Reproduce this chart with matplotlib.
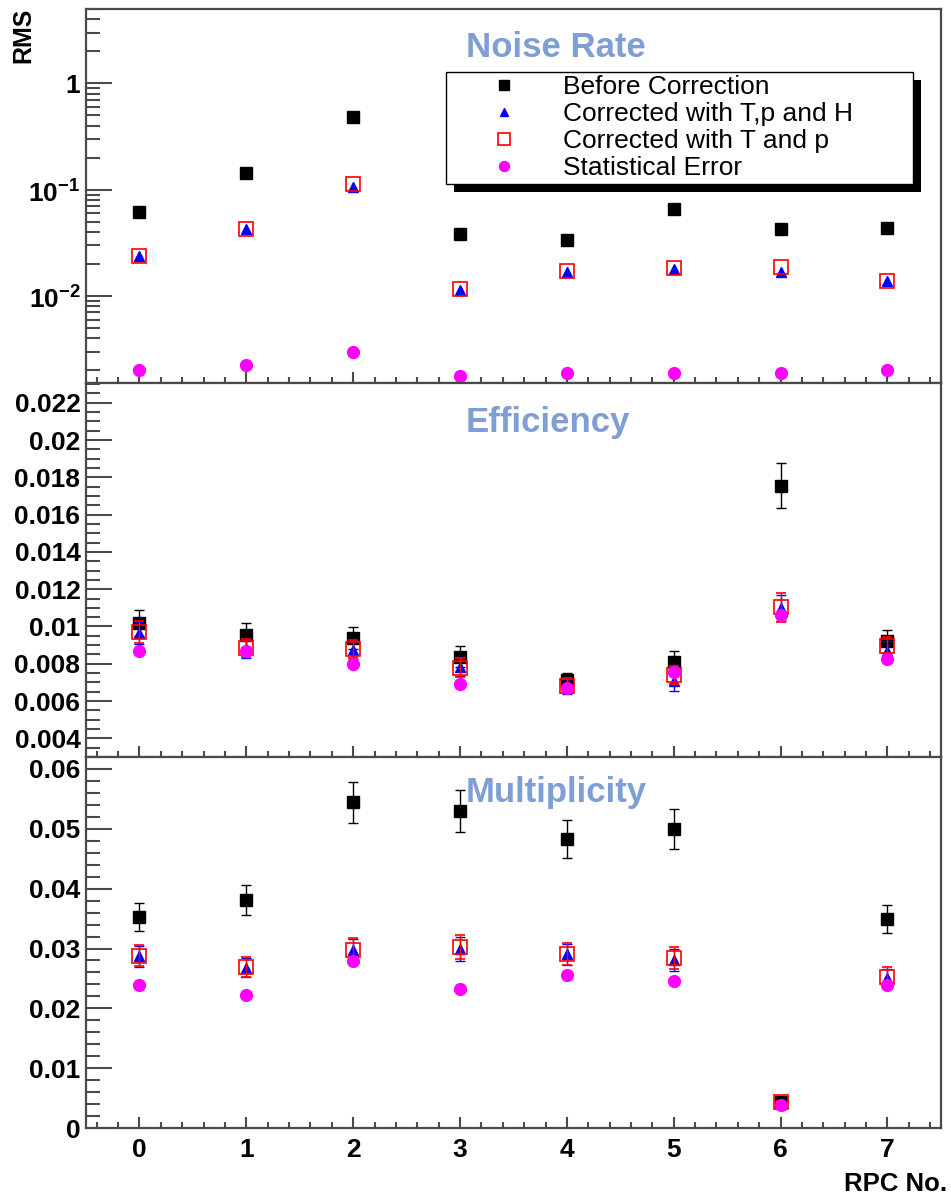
import numpy as np
import matplotlib
matplotlib.use('Agg')
import matplotlib.pyplot as plt
from matplotlib.ticker import MultipleLocator, FixedLocator, FixedFormatter, LogLocator, NullFormatter
from matplotlib.patches import Rectangle

plt.rcParams['font.family'] = ['Liberation Sans', 'DejaVu Sans']
plt.rcParams['mathtext.fontset'] = 'custom'
plt.rcParams['mathtext.rm'] = 'Liberation Sans:bold'
plt.rcParams['mathtext.bf'] = 'Liberation Sans:bold'

# RPC numbers
rpc = [0, 1, 2, 3, 4, 5, 6, 7]

# Noise rate RMS (log scale panel)
noise_before = [0.0616, 0.144, 0.48, 0.038, 0.0336, 0.066, 0.0429, 0.0435]
noise_tph = [0.0237, 0.0423, 0.106, 0.0114, 0.017, 0.018, 0.017, 0.0138]
noise_tp = [0.024, 0.043, 0.114, 0.0117, 0.0171, 0.0182, 0.0188, 0.0139]
noise_stat = [0.00201, 0.00227, 0.00299, 0.00178, 0.00187, 0.00187, 0.00187, 0.00201]

# Efficiency RMS
eff_before = [0.0102, 0.00955, 0.00938, 0.00839, 0.00714, 0.00812, 0.01755, 0.0092]
eff_before_err = [0.0007, 0.00065, 0.0006, 0.00055, 0.00035, 0.00055, 0.0012, 0.0006]
eff_tph = [0.00965, 0.0088, 0.00875, 0.00785, 0.0068, 0.00705, 0.0110, 0.0087]
eff_tph_err = [0.0006, 0.0005, 0.0005, 0.0005, 0.0004, 0.0005, 0.0007, 0.0005]
eff_tp = [0.0097, 0.00884, 0.0088, 0.0078, 0.00682, 0.0074, 0.01102, 0.00893]
eff_tp_err = [0.0006, 0.0005, 0.0005, 0.0005, 0.0004, 0.0005, 0.0008, 0.0005]
eff_stat = [0.00871, 0.00871, 0.0080, 0.00693, 0.0067, 0.00758, 0.01063, 0.00825]

# Multiplicity RMS
mult_before = [0.0353, 0.0381, 0.0544, 0.0529, 0.0483, 0.0500, 0.0043, 0.0349]
mult_before_err = [0.0023, 0.0025, 0.0034, 0.0035, 0.0031, 0.0033, 0.0003, 0.0023]
mult_tph = [0.0287, 0.0268, 0.0297, 0.0299, 0.0290, 0.0281, 0.0041, 0.0250]
mult_tph_err = [0.0018, 0.0016, 0.0019, 0.0020, 0.0018, 0.0019, 0.0003, 0.0016]
mult_tp = [0.0288, 0.0269, 0.0298, 0.0303, 0.0291, 0.0284, 0.0043, 0.0253]
mult_tp_err = [0.0018, 0.0016, 0.0019, 0.0020, 0.0018, 0.0019, 0.0003, 0.0016]
mult_stat = [0.0239, 0.0222, 0.0279, 0.0232, 0.0256, 0.0246, 0.0038, 0.0239]

labels = ['Before Correction', 'Corrected with T,p and H', 'Corrected with T and p', 'Statistical Error']
title_color = '#7f9ed6'
frame_color = '#4a4a4a'

fig = plt.figure(figsize=(9.51, 11.97), dpi=100)
left, width = 0.0904, 0.899
ax1 = fig.add_axes([left, 0.680, width, 0.3125])
ax2 = fig.add_axes([left, 0.3676, width, 0.3124], sharex=ax1)
ax3 = fig.add_axes([left, 0.0576, width, 0.3100], sharex=ax1)


def draw_series(ax, before, tph, tp, stat, before_err=None, tph_err=None, tp_err=None):
    h1 = ax.errorbar(rpc, before, yerr=before_err, fmt='s', color='black', ms=9, elinewidth=1, capsize=3.5, zorder=2)
    h2 = ax.errorbar(rpc, tph, yerr=tph_err, fmt='^', color='blue', ms=7.5, elinewidth=1, capsize=3.5, zorder=2.2)
    h3 = ax.errorbar(rpc, tp, yerr=tp_err, fmt='s', color='red', mfc='none', mec='red', mew=1.2, ms=9.5,
                     elinewidth=1, capsize=3.5, zorder=2.4)
    h4, = ax.plot(rpc, stat, 'o', color='#ff00ff', ms=8.5, zorder=3)
    return [h1, h2, h3, h4]


handles = draw_series(ax1, noise_before, noise_tph, noise_tp, noise_stat)
draw_series(ax2, eff_before, eff_tph, eff_tp, eff_stat, eff_before_err, eff_tph_err, eff_tp_err)
draw_series(ax3, mult_before, mult_tph, mult_tp, mult_stat, mult_before_err, mult_tph_err, mult_tp_err)

# axes styling, ROOT-like inward ticks on left and bottom only
for ax in [ax1, ax2, ax3]:
    ax.set_xlim(-0.5, 7.5)
    ax.xaxis.set_major_locator(MultipleLocator(1))
    ax.xaxis.set_minor_locator(MultipleLocator(0.2))
    ax.tick_params(axis='both', which='both', direction='in', color=frame_color, width=1.5,
                   labelsize=19, top=False, right=False)
    ax.tick_params(axis='y', which='major', length=19, pad=4)
    ax.tick_params(axis='y', which='minor', length=10)
    ax.tick_params(axis='x', which='major', length=8, pad=7)
    ax.tick_params(axis='x', which='minor', length=4)
    for sp in ax.spines.values():
        sp.set_color(frame_color)
        sp.set_linewidth(1.6)

ax1.tick_params(labelbottom=False)
ax2.tick_params(labelbottom=False)

# top panel: log scale
ax1.set_yscale('log')
ax1.set_ylim(0.00152, 5.0)
ax1.yaxis.set_major_locator(FixedLocator([0.01, 0.1, 1]))
ax1.yaxis.set_major_formatter(FixedFormatter([r'$10^{-2}$', r'$10^{-1}$', '1']))
ax1.yaxis.set_minor_locator(LogLocator(base=10, subs=np.arange(2, 10)))
ax1.yaxis.set_minor_formatter(NullFormatter())

# middle panel
ax2.set_ylim(0.003, 0.02306)
ax2.yaxis.set_major_locator(MultipleLocator(0.002))
ax2.yaxis.set_minor_locator(MultipleLocator(0.0005))
ax2.yaxis.set_major_formatter(plt.FuncFormatter(lambda v, p: ('%.3f' % v).rstrip('0')))

# bottom panel
ax3.set_ylim(0, 0.062)
ax3.yaxis.set_major_locator(MultipleLocator(0.01))
ax3.yaxis.set_minor_locator(MultipleLocator(0.002))
ax3.yaxis.set_major_formatter(plt.FuncFormatter(lambda v, p: '0' if v == 0 else ('%.2f' % v).rstrip('0')))

for lab in ax1.get_yticklabels() + ax2.get_yticklabels() + ax3.get_yticklabels() + ax3.get_xticklabels():
    lab.set_fontweight('bold')

# panel titles
ax1.text(0.444, 0.896, 'Noise Rate', transform=ax1.transAxes, color=title_color, fontsize=25,
         fontweight='bold', ha='left', va='center')
ax2.text(0.444, 0.895, 'Efficiency', transform=ax2.transAxes, color=title_color, fontsize=25,
         fontweight='bold', ha='left', va='center')
ax3.text(0.444, 0.905, 'Multiplicity', transform=ax3.transAxes, color=title_color, fontsize=25,
         fontweight='bold', ha='left', va='center')

# legend with a solid black drop shadow
leg = ax1.legend(handles, labels, loc='upper left', bbox_to_anchor=(0.421, 0.529, 0.546, 0.303), mode='expand',
                 fontsize=19, frameon=True, fancybox=False, edgecolor='black', framealpha=1,
                 borderpad=0.12, labelspacing=0.12, handlelength=4.2, handletextpad=0.1,
                 borderaxespad=0, numpoints=1, markerscale=0.85)
leg.get_frame().set_linewidth(1.0)
leg.set_zorder(10)

fig.text(0.025, 0.994, 'RMS', rotation=90, ha='center', va='top', fontsize=18, fontweight='bold')
fig.text(0.996, 0.011, 'RPC No.', ha='right', va='center', fontsize=18.5, fontweight='bold')

fig.canvas.draw()
bb = leg.get_frame().get_window_extent()
W, H = fig.bbox.width, fig.bbox.height
shadow = Rectangle(((bb.x0 + 8) / W, (bb.y0 - 8) / H), bb.width / W, bb.height / H,
                   transform=fig.transFigure, facecolor='black', edgecolor='none', zorder=9, clip_on=False)
ax1.add_patch(shadow)

plt.savefig('out.png', dpi=100)
